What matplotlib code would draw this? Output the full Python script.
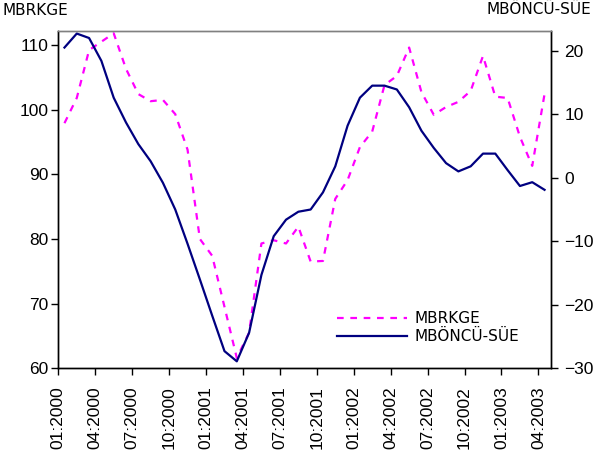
import numpy as np
import matplotlib
matplotlib.use("Agg")
import matplotlib.pyplot as plt

# monthly data, 01:2000 - 04:2003
mbrkge = [97.9, 101.8, 109.2, 110.5, 111.8, 106.3, 102.4, 101.3, 101.5, 99.3,
          93.8, 80.0, 77.4, 69.5, 61.6, 65.5, 79.3, 79.8, 79.3, 81.9,
          76.5, 76.6, 86.2, 89.1, 94.2, 96.6, 103.8, 105.2, 109.6, 102.7,
          99.2, 100.4, 101.2, 102.9, 108.3, 102.0, 101.8, 95.8, 91.3, 102.4]
mboncu_sue = [20.5, 22.7, 22.0, 18.4, 12.6, 8.7, 5.3, 2.6, -0.8, -5.0,
              -10.4, -16.0, -21.7, -27.3, -28.9, -24.4, -15.3, -9.2, -6.6, -5.35,
              -5.0, -2.3, 1.8, 8.2, 12.6, 14.5, 14.5, 13.9, 11.1, 7.4,
              4.7, 2.3, 1.0, 1.8, 3.8, 3.8, 1.2, -1.3, -0.7, -1.9]
tick_labels = ["01:2000", "04:2000", "07:2000", "10:2000", "01:2001", "04:2001",
               "07:2001", "10:2001", "01:2002", "04:2002", "07:2002", "10:2002",
               "01:2003", "04:2003"]

x = np.arange(len(mbrkge)) + 0.5
tick_pos = np.arange(0, len(mbrkge), 3)

plt.rcParams['font.family'] = 'Liberation Sans'

fig = plt.figure(figsize=(5.98, 4.57), dpi=100)
ax = fig.add_axes([0.0975, 0.1941, 0.9209 - 0.0975, 0.9328 - 0.1941])
ax2 = ax.twinx()

l1, = ax.plot(x, mbrkge, color='#FF00FF', lw=1.6, ls=(0, (3, 3)), label='MBRKGE')
l2, = ax2.plot(x, mboncu_sue, color='#000080', lw=1.6, label='MBÖNCÜ-SÜE')

ax.set_xlim(0, 40)
ax.set_ylim(60, 112.2)
ax2.set_ylim(-30, 23.15)
ax.set_yticks([60, 70, 80, 90, 100, 110])
ax2.set_yticks([-30, -20, -10, 0, 10, 20])
ax.set_xticks(tick_pos)
ax.set_xticklabels(tick_labels, rotation=90)

for a in (ax, ax2):
    for s in a.spines.values():
        s.set_linewidth(1.0)
    a.spines['top'].set_color('#808080')
ax.tick_params(axis='x', direction='out', length=5, width=1, labelsize=12.5, pad=8)
ax.tick_params(axis='y', direction='out', length=5, width=1, labelsize=12.5, pad=2)
ax2.tick_params(axis='y', direction='out', length=5, width=1, labelsize=12.5, pad=5)

leg = ax2.legend([l1, l2], ['MBRKGE', 'MBÖNCÜ-SÜE'], loc='center left',
                 bbox_to_anchor=(0.565, 0.12), frameon=False,
                 handlelength=4.6, handletextpad=0.5, labelspacing=0.2,
                 borderpad=0, borderaxespad=0,
                 prop={'family': 'DejaVu Sans', 'size': 11})

fig.text(0.004, 0.977, 'MBRKGE', family='DejaVu Sans', fontsize=11, va='center', ha='left')
fig.text(0.988, 0.979, 'MBÖNCÜ-SÜE', family='DejaVu Sans', fontsize=11, va='center', ha='right')

fig.savefig('out.png', dpi=100)
